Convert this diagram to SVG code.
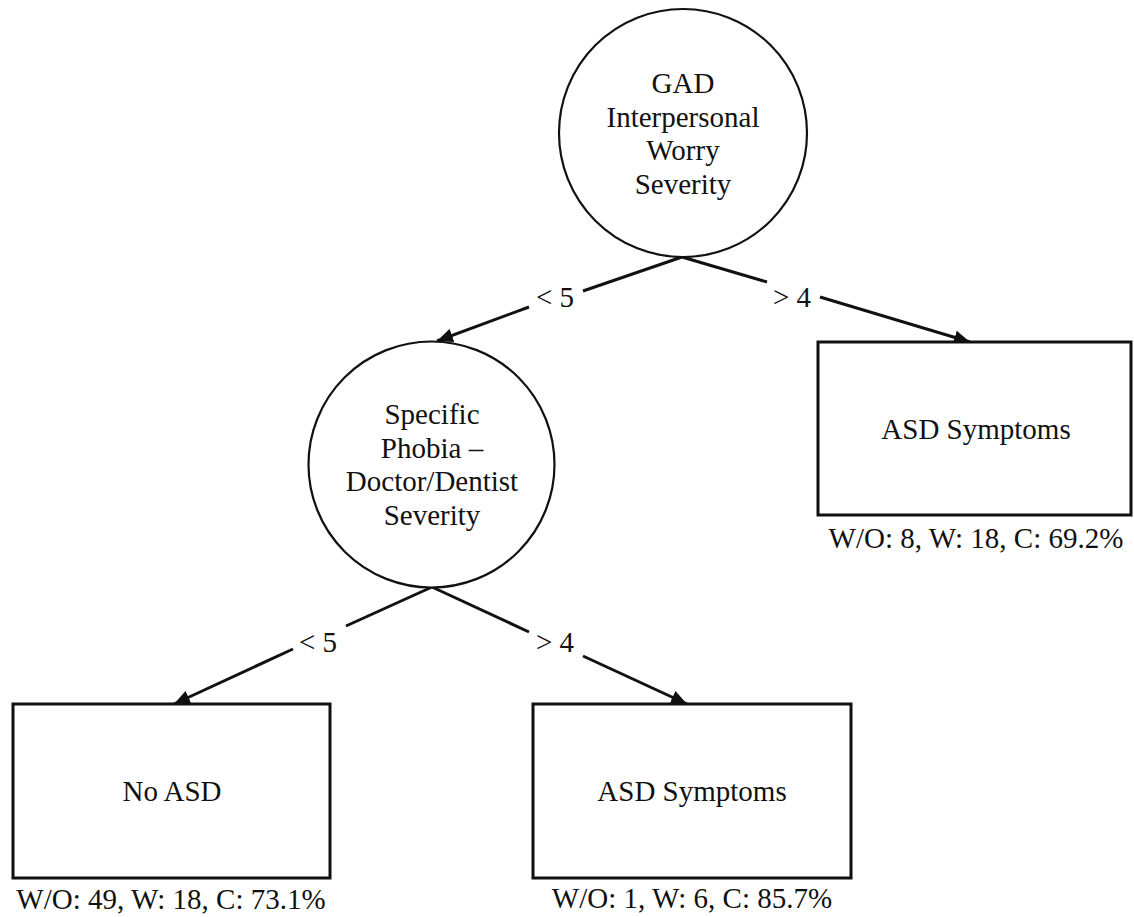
<svg xmlns="http://www.w3.org/2000/svg" width="1134" height="917" viewBox="0 0 1134 917">
<style>
text{font-family:"Liberation Serif","Times New Roman",serif;font-size:29px;fill:#111;text-anchor:middle}
.node{fill:#fff;stroke:#111;stroke-width:2.2}
.box{fill:#fff;stroke:#111;stroke-width:3}
.edge{fill:none;stroke:#111;stroke-width:3}
</style>
<defs>
<marker id="arr" markerUnits="userSpaceOnUse" markerWidth="18" markerHeight="14" refX="16" refY="7" orient="auto">
<path d="M0,0 L16,7 L0,14 Z" fill="#111"/>
</marker>
</defs>
<rect width="1134" height="917" fill="#fff"/>
<g id="connectors">
<path class="edge" d="M682,257 L583,291"/>
<path class="edge" d="M529,307 L437,341" marker-end="url(#arr)"/>
<path class="edge" d="M682,257 L767,282"/>
<path class="edge" d="M820,297 L970,342" marker-end="url(#arr)"/>
<path class="edge" d="M432,587 L346,626"/>
<path class="edge" d="M293,649 L174,704" marker-end="url(#arr)"/>
<path class="edge" d="M432,587 L529,632"/>
<path class="edge" d="M583,656 L687,704" marker-end="url(#arr)"/>
<text x="555" y="307">&lt; 5</text>
<text x="792" y="307">&gt; 4</text>
<text x="318" y="652">&lt; 5</text>
<text x="555" y="652">&gt; 4</text>
</g>
<g id="n-gad">
<circle class="node" cx="683" cy="133" r="124"/>
<text x="683" y="93">GAD</text>
<text x="683" y="126.5">Interpersonal</text>
<text x="683" y="160">Worry</text>
<text x="683" y="193.5">Severity</text>
</g>
<g id="n-phobia">
<circle class="node" cx="431.5" cy="464.5" r="123"/>
<text x="432" y="424">Specific</text>
<text x="432" y="457.5">Phobia –</text>
<text x="432" y="491">Doctor/Dentist</text>
<text x="432" y="524.5">Severity</text>
</g>
<g id="n-asd-right">
<rect class="box" x="818" y="342" width="313" height="173"/>
<text x="976" y="439">ASD Symptoms</text>
<text x="976" y="548">W/O: 8, W: 18, C: 69.2%</text>
</g>
<g id="n-noasd">
<rect class="box" x="13" y="704" width="317" height="174"/>
<text x="172" y="801">No ASD</text>
<text x="171" y="909">W/O: 49, W: 18, C: 73.1%</text>
</g>
<g id="n-asd-mid">
<rect class="box" x="533" y="704" width="318" height="174"/>
<text x="692" y="801">ASD Symptoms</text>
<text x="692" y="908">W/O: 1, W: 6, C: 85.7%</text>
</g>
</svg>
